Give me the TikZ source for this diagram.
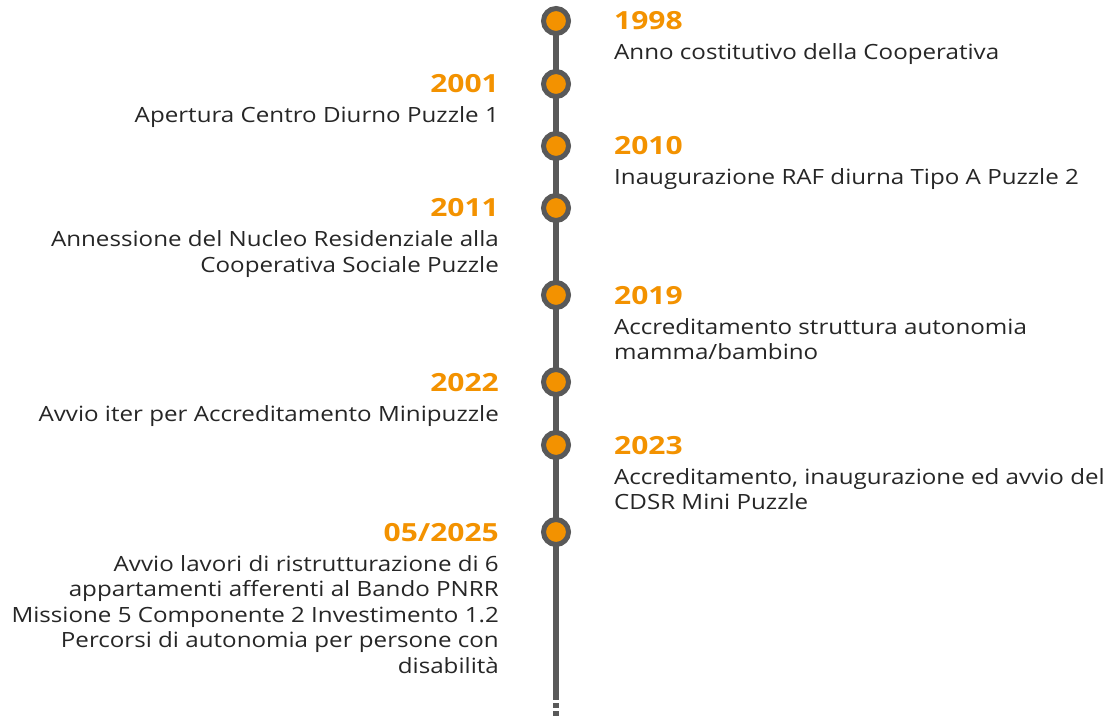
\documentclass[tikz,border=0pt]{standalone}
\usepackage{fontspec}
\setmainfont{Open Sans}
\newfontfamily\descfont[FakeStretch=1.15]{Open Sans}
\newfontfamily\yearfont[FakeStretch=1.2]{Open Sans}
\definecolor{tlgray}{HTML}{595959}
\definecolor{tlorange}{HTML}{F39200}
\definecolor{txtgray}{HTML}{262626}
\begin{document}
\begin{tikzpicture}[x=1pt,y=-1pt,
  dot/.style={circle,draw=tlgray,line width=5pt,fill=tlorange,minimum size=25pt,inner sep=0pt},
  yearR/.style={anchor=base west,inner sep=0pt,text=tlorange,font=\yearfont\fontsize{25}{26}\selectfont\bfseries},
  yearL/.style={anchor=base east,inner sep=0pt,text=tlorange,font=\yearfont\fontsize{25}{26}\selectfont\bfseries},
  descR/.style={anchor=base west,inner sep=0pt,text=txtgray,font=\descfont\fontsize{21}{25.5}\selectfont},
  descL/.style={anchor=base east,inner sep=0pt,text=txtgray,font=\descfont\fontsize{21}{25.5}\selectfont},
  axis/.style={draw=tlgray,line width=5.5pt}]
\useasboundingbox (0,0) rectangle (1113,719);
\coordinate (top) at (556,21);
\coordinate (bot) at (556,697);
\coordinate (end) at (556,719);
\draw[axis] (top) -- (bot);
\draw[axis,dash pattern=on 5pt off 3pt] ([yshift=2pt]bot) -- (end);
\node[dot] (d1) at (556,21) {};
\node[dot] (d2) at (556,84) {};
\node[dot] (d3) at (556,146) {};
\node[dot] (d4) at (556,208) {};
\node[dot] (d5) at (556,295) {};
\node[dot] (d6) at (556,382) {};
\node[dot] (d7) at (556,445) {};
\node[dot] (d8) at (556,532) {};
% 1998
\node[yearR] (y1) at (614,30) {1998};
\node[descR] (t1) at (614,60) {Anno costitutivo della Cooperativa};
% 2001
\node[yearL] (y2) at (499,93) {2001};
\node[descL] (t2) at (499,123) {Apertura Centro Diurno Puzzle 1};
% 2010
\node[yearR] (y3) at (614,155) {2010};
\node[descR] (t3) at (614,185) {Inaugurazione RAF diurna Tipo A Puzzle 2};
% 2011
\node[yearL] (y4) at (499,217) {2011};
\node[descL] (t4a) at (499,247) {Annessione del Nucleo Residenziale alla};
\node[descL] (t4b) at (499,272.5) {Cooperativa Sociale Puzzle};
% 2019
\node[yearR] (y5) at (614,304) {2019};
\node[descR] (t5a) at (614,334) {Accreditamento struttura autonomia};
\node[descR] (t5b) at (614,359.5) {mamma/bambino};
% 2022
\node[yearL] (y6) at (499,391) {2022};
\node[descL] (t6) at (499,421) {Avvio iter per Accreditamento Minipuzzle};
% 2023
\node[yearR] (y7) at (614,454) {2023};
\node[descR] (t7a) at (614,484) {Accreditamento, inaugurazione ed avvio del};
\node[descR] (t7b) at (614,509.5) {CDSR Mini Puzzle};
% 05/2025
\node[yearL] (y8) at (499,541) {05/2025};
\node[descL] (t8a) at (499,571) {Avvio lavori di ristrutturazione di 6};
\node[descL] (t8b) at (499,596.5) {appartamenti afferenti al Bando PNRR};
\node[descL] (t8c) at (499,622) {Missione 5 Componente 2 Investimento 1.2};
\node[descL] (t8d) at (499,647.5) {Percorsi di autonomia per persone con};
\node[descL] (t8e) at (499,673) {disabilità};
\end{tikzpicture}
\end{document}
